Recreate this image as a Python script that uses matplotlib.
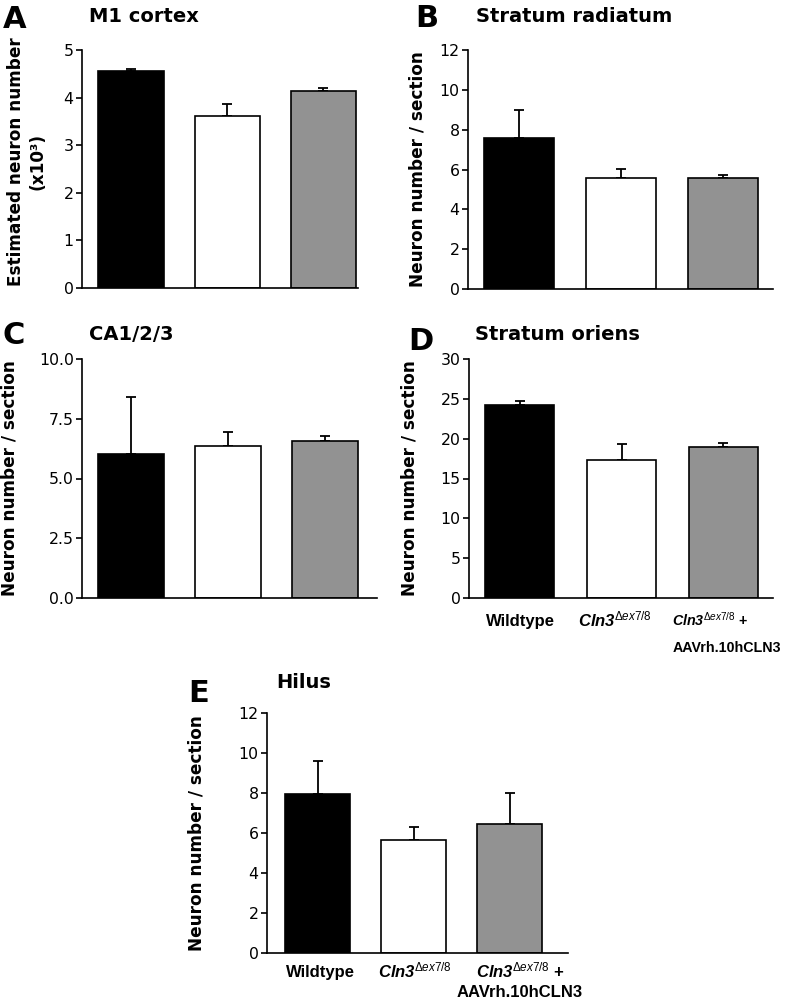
import numpy as np
import matplotlib
matplotlib.use("Agg")
from matplotlib import pyplot as plt
from matplotlib.transforms import blended_transform_factory

plt.rcParams['font.family'] = ['DejaVu Sans']
plt.rcParams['mathtext.fontset'] = 'custom'
plt.rcParams['mathtext.rm'] = 'Liberation Sans'
plt.rcParams['mathtext.it'] = 'Liberation Sans:italic'
plt.rcParams['mathtext.bf'] = 'Liberation Sans:bold:italic'

# group names (x labels in D and E), one list of lines per group
cln3 = r"$\mathbf{Cln3}^{\mathit{\Delta ex7/8}}$"
groups = [["Wildtype"], [cln3], [cln3 + " +", "AAVrh.10hCLN3"]]
colors = ["#000000", "#ffffff", "#929292"]

# means and upper SEM per region
m1_mean = [4.56, 3.61, 4.14]
m1_err = [0.05, 0.25, 0.07]
rad_mean = [7.6, 5.56, 5.56]
rad_err = [1.4, 0.49, 0.17]
ca_mean = [6.02, 6.36, 6.58]
ca_err = [2.4, 0.6, 0.2]
ori_mean = [24.2, 17.3, 19.0]
ori_err = [0.5, 2.0, 0.4]
hil_mean = [7.93, 5.65, 6.45]
hil_err = [1.67, 0.67, 1.53]

W, H = 792, 1001
fig = plt.figure(figsize=(W/100, H/100), dpi=100)


def px_axes(x0, y0, x1, y1):
    """axes from pixel box (top-left origin)"""
    return fig.add_axes([x0/W, 1-y1/H, (x1-x0)/W, (y1-y0)/H])


def panel(box, mean, err, ymax, step, xlim, title, tpos, letter, lpos,
          ylabel, lab_x, fmt="%d", lab_y=0.5):
    ax = px_axes(*box)
    x = np.arange(len(mean))
    ax.errorbar(x, mean, yerr=[np.zeros(len(err)), err], fmt='none',
                ecolor='black', elinewidth=1.3, capsize=3.6, capthick=1.3, zorder=1)
    ax.bar(x, mean, width=0.68, color=colors, edgecolor='black', linewidth=1.2, zorder=2)
    ax.set_ylim(0, ymax)
    ax.set_xlim(*xlim)
    ticks = np.arange(0, ymax + step/2, step)
    ax.set_yticks(ticks)
    ax.set_yticklabels([fmt % v for v in ticks])
    for s in ['top', 'right']:
        ax.spines[s].set_visible(False)
    ax.spines['left'].set_linewidth(1.2)
    ax.spines['bottom'].set_linewidth(1.2)
    ax.tick_params(axis='y', length=4, width=1.2, labelsize=11.3, pad=2)
    ax.set_xticks([])
    ax.set_ylabel(ylabel, fontsize=12.2, fontweight='bold')
    ax.yaxis.set_label_coords(lab_x, lab_y)
    fig.text(tpos[0]/W, 1-tpos[1]/H, title, fontsize=14, fontweight='bold',
             ha='left', va='center')
    fig.text(lpos[0]/W, 1-lpos[1]/H, letter, fontsize=22, fontweight='bold',
             ha='left', va='center')
    return ax


def group_labels(ax, xs, ys, has, sizes):
    """x labels under the bars, each line on its own baseline"""
    tr = blended_transform_factory(ax.transData, ax.transAxes)
    for lines, xx, ha, fs in zip(groups, xs, has, sizes):
        for line, yy in zip(lines, ys):
            ax.text(xx, yy, line, transform=tr, ha=ha, va='baseline',
                    fontsize=fs, fontweight='bold', family='Liberation Sans')


panel((82, 50, 358, 288), m1_mean, m1_err, 5, 1, (-0.51, 2.36),
      "M1 cortex", (89, 17), "A", (3, 19),
      "Estimated neuron number\n(x10³)", -0.13, lab_y=0.53)
panel((468, 50, 773, 289), rad_mean, rad_err, 12, 2, (-0.5, 2.49),
      "Stratum radiatum", (476, 17), "B", (415, 18),
      "Neuron number / section", -0.135)
panel((82, 359, 377, 598), ca_mean, ca_err, 10, 2.5, (-0.5, 2.54),
      "CA1/2/3", (89, 334), "C", (3, 336),
      "Neuron number / section", -0.215, fmt="%.1f")
axd = panel((469, 359, 773, 598), ori_mean, ori_err, 30, 5, (-0.5, 2.49),
            "Stratum oriens", (475, 334), "D", (408, 342),
            "Neuron number / section", -0.165)
group_labels(axd, [0.01, 0.94, 1.5], [-0.117, -0.226],
             ['center', 'center', 'left'], [12, 12, 10.3])
axe = panel((267, 713, 568, 953), hil_mean, hil_err, 12, 2, (-0.53, 2.61),
            "Hilus", (276, 682), "E", (188, 693),
            "Neuron number / section", -0.205)
group_labels(axe, [0.03, 1.01, 2.11], [-0.10, -0.185],
             ['center', 'center', 'center'], [12, 12, 12])

fig.savefig("out.png", dpi=100)
